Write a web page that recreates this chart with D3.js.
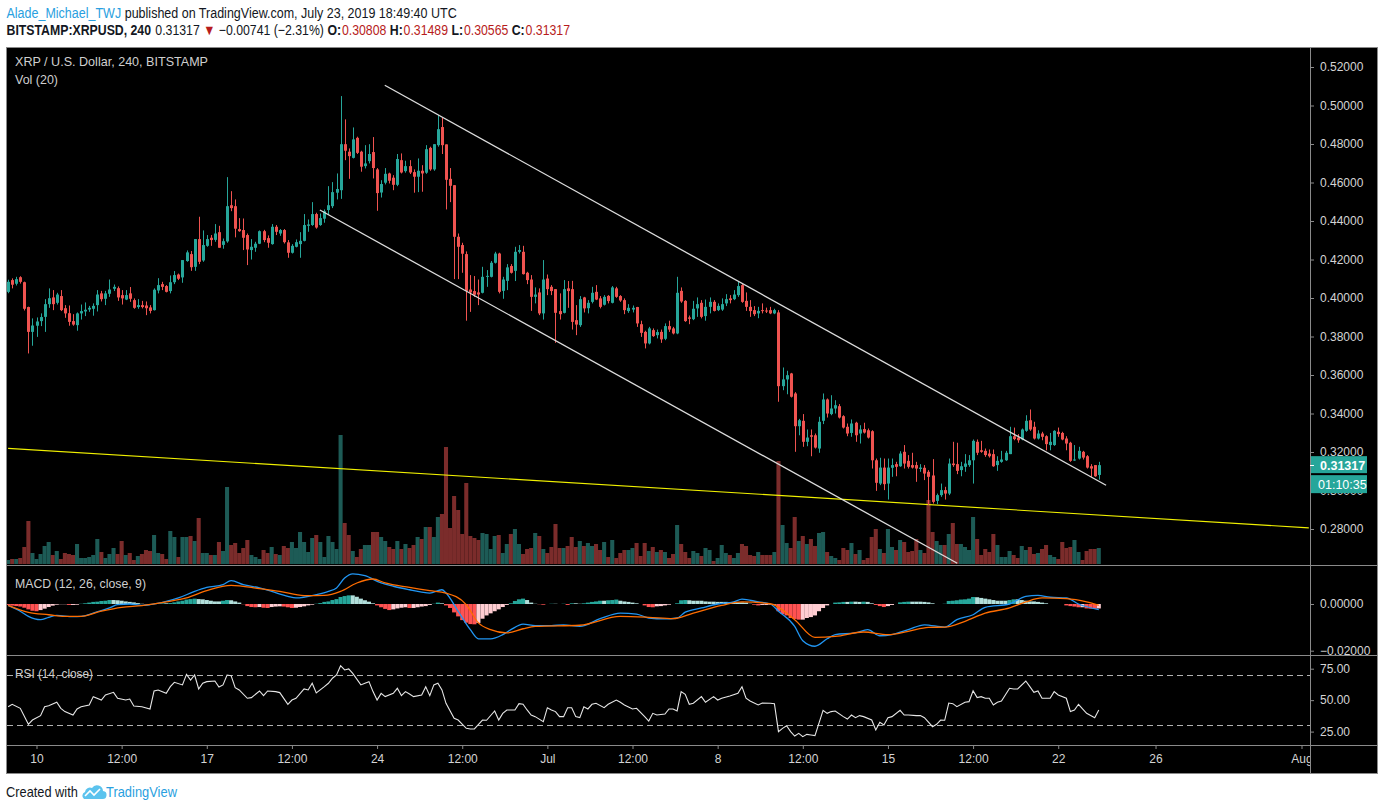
<!DOCTYPE html>
<html><head><meta charset="utf-8">
<script src="https://cdn.jsdelivr.net/npm/d3@7"></script>
<style>
html,body{margin:0;padding:0;background:#fff;overflow:hidden;}
svg{display:block;}
</style></head>
<body>
<svg id="chart" width="1380" height="810"></svg>
<script>
// ---------------- DATA ----------------
const firstBarUTC = Date.UTC(2019, 5, 8, 20);   // first 4h bar open time
const barHours = 4;

const open = [
.4032,.4093,.4074,.4108,.4082,.3953,.3824,.3856,.3880,.3902,
.3968,.4003,.3975,.4010,.3947,.3921,.3880,.3859,.3920,.3930,
.3940,.3944,.3963,.4024,.3996,.4022,.4048,.4051,.4015,.3992,
.4024,.3989,.3953,.3963,.3961,.3951,.3937,.4039,.4072,.4062,
.4036,.4082,.4122,.4107,.4192,.4228,.4162,.4306,.4195,.4271,
.4313,.4302,.4342,.4276,.4294,.4482,.4477,.4358,.4353,.4327,
.4249,.4261,.4282,.4347,.4311,.4280,.4370,.4335,.4353,.4289,
.4235,.4266,.4280,.4297,.4375,.4379,.4436,.4379,.4412,.4457,
.4477,.4547,.4560,.4799,.4760,.4728,.4832,.4760,.4685,.4711,
.4758,.4668,.4548,.4599,.4647,.4625,.4588,.4716,.4659,.4685,
.4654,.4630,.4661,.4651,.4780,.4668,.4794,.4888,.4798,.4619,
.4586,.4318,.4275,.4228,.4044,.4036,.4029,.4027,.4110,.4110,
.4183,.4231,.4037,.4089,.4166,.4141,.4240,.4240,.4131,.4096,
.4006,.4029,.3920,.4101,.4058,.4046,.3932,.3923,.4050,.4046,
.3885,.3859,.4003,.3947,.3980,.4032,.3998,.3965,.4011,.3975,
.4050,.4010,.3989,.3932,.3940,.3953,.3864,.3824,.3764,.3833,
.3807,.3824,.3788,.3854,.3842,.3816,.4037,.3985,.3899,.3890,
.3946,.3975,.3906,.3954,.3980,.3937,.3940,.3972,.3998,.3994,
.4015,.4067,.3985,.3954,.3937,.3920,.3937,.3935,.3937,.3920,
.3925,.3542,.3577,.3608,.3504,.3334,.3362,.3253,.3287,.3287,
.3218,.3362,.3473,.3397,.3426,.3438,.3386,.3331,.3299,.3352,
.3296,.3319,.3313,.3308,.3157,.3036,.3119,.3036,.3118,.3137,
.3126,.3201,.3154,.3132,.3132,.3112,.3118,.3097,.3078,.2946,
.2976,.3002,.2984,.3140,.3137,.3106,.3123,.3132,.3157,.3253,
.3209,.3206,.3192,.3189,.3132,.3149,.3157,.3189,.3282,.3275,
.3265,.3310,.3365,.3331,.3270,.3296,.3282,.3236,.3236,.3305,
.3299,.3270,.3248,.3157,.3166,.3201,.3178,.3126,.3132,.30808];

const high = [
.4095,.4102,.4110,.4113,.4085,.3955,.3894,.3899,.3920,.3994,
.4050,.4041,.4027,.4041,.3963,.3961,.3916,.3925,.3966,.3977,
.3959,.3972,.4041,.4037,.4037,.4096,.4070,.4060,.4041,.4041,
.4057,.3998,.3994,.3985,.3982,.3963,.4050,.4103,.4084,.4067,
.4117,.4140,.4127,.4197,.4247,.4244,.4306,.4422,.4351,.4327,
.4327,.4384,.4375,.4309,.4628,.4555,.4512,.4415,.4413,.4335,
.4306,.4292,.4351,.4354,.4325,.4384,.4379,.4358,.4358,.4301,
.4280,.4304,.4342,.4436,.4408,.4498,.4443,.4439,.4460,.4581,
.4602,.4647,.5049,.4928,.4777,.4886,.4838,.4765,.4794,.4799,
.4836,.4675,.4612,.4675,.4651,.4638,.4748,.4751,.4713,.4716,
.4668,.4725,.4690,.4794,.4786,.4799,.4950,.4936,.4798,.4675,
.4586,.4335,.4287,.4242,.4119,.4114,.4096,.4162,.4145,.4192,
.4240,.4235,.4110,.4176,.4176,.4266,.4275,.4271,.4136,.4119,
.4055,.4050,.4197,.4122,.4067,.4046,.4024,.4093,.4088,.4089,
.3963,.4010,.4006,.3989,.4058,.4067,.4010,.4015,.4015,.4062,
.4058,.4015,.3998,.3968,.3961,.3954,.3882,.3830,.3850,.3842,
.3836,.3836,.3868,.3882,.3850,.4110,.4055,.3989,.3909,.3985,
.4003,.3989,.3992,.4003,.3989,.3972,.3998,.4020,.4015,.4041,
.4084,.4072,.4029,.3989,.3958,.3954,.3972,.3950,.3954,.3944,
.3937,.3639,.3622,.3611,.3511,.3372,.3397,.3317,.3317,.3296,
.3383,.3504,.3478,.3495,.3469,.3449,.3391,.3348,.3369,.3357,
.3339,.3352,.3322,.3313,.3166,.3170,.3166,.3166,.3166,.3149,
.3204,.3236,.3184,.3196,.3149,.3137,.3132,.3106,.3163,.2984,
.3036,.3019,.3166,.3253,.3248,.3149,.3189,.3184,.3265,.3265,
.3258,.3218,.3213,.3213,.3178,.3206,.3206,.3331,.3327,.3293,
.3322,.3391,.3421,.3357,.3313,.3305,.3287,.3299,.3313,.3327,
.3305,.3282,.3253,.3236,.3227,.3206,.3184,.3137,.3132,.31489];

const low = [
.4025,.4050,.4065,.4075,.3935,.3712,.3752,.3798,.3854,.3824,
.3949,.3937,.3966,.3932,.3897,.3856,.3856,.3830,.3888,.3906,
.3928,.3908,.3930,.3982,.3963,.4006,.4036,.3985,.3966,.3989,
.3980,.3944,.3944,.3946,.3911,.3920,.3935,.4024,.4041,.4029,
.4024,.4072,.4093,.4079,.4188,.4141,.4141,.4176,.4188,.4266,
.4271,.4292,.4261,.4256,.4287,.4451,.4315,.4344,.4249,.4171,
.4200,.4240,.4280,.4290,.4261,.4277,.4327,.4323,.4283,.4209,
.4231,.4263,.4209,.4294,.4344,.4375,.4360,.4375,.4391,.4432,
.4467,.4512,.4515,.4716,.4619,.4725,.4748,.4656,.4673,.4699,
.4621,.4453,.4522,.4590,.4595,.4560,.4581,.4647,.4651,.4644,
.4547,.4550,.4552,.4645,.4661,.4661,.4786,.4748,.4460,.4498,
.4098,.4098,.4131,.3882,.3928,.4006,.3963,.4024,.4058,.4107,
.4179,.4024,.3996,.4041,.4127,.4088,.4231,.4122,.4072,.3933,
.3972,.3911,.3888,.4015,.4015,.3767,.3888,.3920,.3949,.3836,
.3807,.3850,.3925,.3920,.3972,.3989,.3946,.3961,.3972,.3972,
.4001,.3980,.3916,.3923,.3925,.3850,.3798,.3738,.3759,.3798,
.3790,.3767,.3781,.3824,.3811,.3812,.3975,.3876,.3864,.3885,
.3902,.3894,.3882,.3920,.3930,.3932,.3933,.3958,.3972,.3989,
.4006,.3975,.3933,.3902,.3906,.3895,.3920,.3922,.3916,.3916,
.3461,.3521,.3500,.3483,.3201,.3287,.3227,.3230,.3178,.3218,
.3196,.3345,.3379,.3391,.3400,.3374,.3322,.3282,.3279,.3253,
.3244,.3296,.3270,.3114,.2998,.3028,.3002,.2953,.3071,.3074,
.3123,.3114,.3114,.3114,.3045,.3097,.3054,.2924,.2932,.2929,
.2967,.2953,.2976,.3123,.3085,.3074,.3097,.3123,.3036,.3184,
.3196,.3175,.3171,.3123,.3102,.3144,.3154,.3189,.3261,.3248,
.3261,.3305,.3310,.3265,.3265,.3261,.3209,.3209,.3232,.3279,
.3261,.3209,.3149,.3154,.3161,.3161,.3114,.3071,.3071,.30565];

const close = [
.4084,.4069,.4098,.4084,.3944,.3824,.3857,.3878,.3901,.3968,
.3999,.3968,.4018,.3937,.3920,.3876,.3862,.3920,.3932,.3939,
.3949,.3959,.4018,.3994,.4024,.4044,.4058,.4003,.3998,.4015,
.3996,.3949,.3963,.3953,.3947,.3933,.4043,.4067,.4058,.4032,
.4082,.4119,.4100,.4197,.4237,.4160,.4306,.4188,.4275,.4306,
.4301,.4335,.4261,.4295,.4477,.4467,.4360,.4347,.4313,.4252,
.4266,.4282,.4347,.4301,.4287,.4370,.4344,.4353,.4290,.4235,
.4271,.4290,.4297,.4379,.4382,.4436,.4366,.4415,.4451,.4482,
.4550,.4566,.4799,.4765,.4737,.4824,.4754,.4682,.4699,.4748,
.4675,.4545,.4592,.4645,.4609,.4588,.4722,.4652,.4685,.4652,
.4630,.4661,.4647,.4773,.4668,.4799,.4877,.4794,.4614,.4583,
.4318,.4266,.4230,.4037,.4029,.4017,.4018,.4110,.4115,.4183,
.4231,.4032,.4096,.4159,.4131,.4240,.4249,.4124,.4093,.4006,
.4018,.3920,.4096,.4046,.4036,.3923,.3916,.4046,.4036,.3876,
.3862,.3994,.3946,.3975,.4027,.3992,.3954,.4006,.3984,.4055,
.4006,.3987,.3937,.3949,.3949,.3868,.3819,.3764,.3842,.3802,
.3823,.3785,.3854,.3836,.3816,.4027,.3982,.3880,.3892,.3944,
.3968,.3902,.3954,.3980,.3933,.3959,.3968,.3994,.3989,.4018,
.4062,.3980,.3954,.3932,.3916,.3933,.3933,.3930,.3920,.3937,
.3542,.3577,.3599,.3487,.3334,.3365,.3253,.3275,.3279,.3223,
.3357,.3473,.3400,.3426,.3443,.3379,.3327,.3296,.3348,.3287,
.3317,.3301,.3275,.3157,.3040,.3119,.3033,.3119,.3132,.3123,
.3192,.3140,.3123,.3119,.3114,.3119,.3088,.3071,.2941,.2976,
.3002,.2984,.3140,.3132,.3102,.3126,.3140,.3157,.3258,.3196,
.3201,.3184,.3178,.3126,.3154,.3161,.3196,.3282,.3267,.3261,
.3317,.3362,.3317,.3270,.3296,.3279,.3241,.3253,.3310,.3293,
.3265,.3244,.3154,.3161,.3206,.3171,.3119,.3114,.3074,.31317];

const volume = [
4,5,5,6,17,43,11,5,10,18, 22,9,13,5,11,10,9,20,6,6,
7,9,25,12,6,10,16,10,23,9, 11,4,8,10,14,13,29,11,10,5,
33,27,7,27,27,28,23,46,11,11, 9,9,22,13,77,19,21,11,16,24,
9,7,5,14,11,17,10,9,18,16, 22,16,32,22,12,26,29,22,7,28,
22,15,129,41,29,13,7,15,19,19, 32,32,27,23,17,15,23,15,20,16,
19,27,25,37,37,27,47,50,117,36, 68,54,30,81,28,26,24,31,30,15,
28,29,11,20,30,35,20,10,15,16, 31,28,15,11,17,40,16,16,18,27,
17,23,18,21,18,20,14,22,7,24, 6,11,14,14,16,21,8,21,13,17,
12,14,12,6,10,39,20,12,6,13, 11,8,16,14,3,6,19,11,9,6,
11,20,18,9,8,12,9,9,9,12, 103,39,21,16,47,23,28,20,25,18,
31,32,12,8,6,4,16,14,21,10, 14,4,6,27,35,15,11,35,17,14,
24,22,12,13,25,14,11,64,32,23, 19,19,30,41,20,20,17,14,47,25,
9,15,12,30,19,7,7,13,9,6, 18,14,17,10,11,15,19,9,7,5,
22,16,17,24,12,4,13,15,15,16];

// MACD line and signal line, read at bar positions (bar index, value)
const macdBar = [0,3,5,8,10,12,16,18,21,25,27,30,33,35,39,42,46,49,53,55,58,62,65,69,71,76,79,81,83,85,88,92,95,99,102,104,107,108,111,114,116,119,122,124,127,130,134,137,141,146,151,155,158,162,165,167,171,175,179,181,185,188,190,194,196,199,202,204,209,212,215,218,222,226,231,234,238,241,247,251,254,257,261,264,269];
const macdVal = [-0.0006,-0.0031,-0.0053,-0.0067,-0.0057,-0.0049,-0.0054,-0.0053,-0.0039,-0.0017,-0.0003,0,-0.0006,-0.0003,0.0011,0.0026,0.0054,0.0071,0.0083,0.0100,0.0083,0.0069,0.0054,0.0033,0.0026,0.0040,0.0054,0.0069,0.0111,0.0129,0.0121,0.0090,0.0076,0.0061,0.0051,0.0047,0.0061,0.0047,-0.0031,-0.0110,-0.0149,-0.0149,-0.0131,-0.0110,-0.0086,-0.0093,-0.0093,-0.0089,-0.0096,-0.0063,-0.0039,-0.0043,-0.0060,-0.0064,-0.0060,-0.0035,-0.0017,0,0.0009,0.0021,0.0009,0,-0.0031,-0.0096,-0.0157,-0.0181,-0.0149,-0.0131,-0.0124,-0.0110,-0.0136,-0.0131,-0.0110,-0.0089,-0.0099,-0.0067,-0.0046,-0.0014,0,0.0033,0.0037,0.0029,0.0026,0,-0.0024];
const signalBar = [0,5,10,14,18,23,28,33,39,44,49,55,62,67,73,78,82,86,90,93,99,104,108,113,116,119,123,127,130,141,151,158,164,169,176,181,188,194,199,204,211,217,222,227,231,236,241,247,251,255,261,266,269];
const signalVal = [-0.0006,-0.0036,-0.0046,-0.0053,-0.0053,-0.0031,-0.0014,-0.0007,0.0009,0.0026,0.0057,0.0080,0.0066,0.0054,0.0036,0.0037,0.0054,0.0090,0.0107,0.0090,0.0071,0.0057,0.0047,-0.0003,-0.0081,-0.0110,-0.0124,-0.0106,-0.0096,-0.0091,-0.0053,-0.0057,-0.0063,-0.0039,-0.0006,0.0009,0.0001,-0.0067,-0.0143,-0.0139,-0.0120,-0.0131,-0.0117,-0.0100,-0.0099,-0.0074,-0.0039,-0.0017,0.0009,0.0026,0.0023,0.0009,-0.0006];
// MACD histogram, one value per bar
const histogram = [
-0.0004,-0.0007,-0.0009,-0.0011,-0.0016,-0.0023,-0.0029,-0.0031,-0.0026,-0.0020,
-0.0013,-0.0007,-0.0003,-0.0001,-0.0001,-0.0004,-0.0004,-0.0003,0.0001,0.0003,
0.0006,0.0009,0.0010,0.0013,0.0014,0.0017,0.0017,0.0016,0.0014,0.0011,
0.0009,0.0007,0.0004,0.0001,-0.0001,-0.0003,0,0.0001,0.0003,0.0003,
0.0004,0.0007,0.0011,0.0014,0.0019,0.0021,0.0023,0.0021,0.0020,0.0017,
0.0014,0.0011,0.0011,0.0014,0.0017,0.0016,0.0011,0.0006,-0.0001,-0.0009,
-0.0013,-0.0014,-0.0013,-0.0016,-0.0017,-0.0013,-0.0011,-0.0010,-0.0011,-0.0014,
-0.0017,-0.0016,-0.0013,-0.0010,-0.0006,-0.0003,0.0001,0.0004,0.0009,0.0011,
0.0017,0.0021,0.0030,0.0034,0.0037,0.0037,0.0031,0.0023,0.0016,0.0010,
0.0003,-0.0006,-0.0014,-0.0021,-0.0026,-0.0023,-0.0019,-0.0016,-0.0014,-0.0017,
-0.0017,-0.0014,-0.0011,-0.0009,-0.0004,0.0001,0.0006,0.0003,-0.0006,-0.0017,
-0.0036,-0.0053,-0.0069,-0.0080,-0.0086,-0.0087,-0.0081,-0.0063,-0.0049,-0.0040,
-0.0031,-0.0023,-0.0013,-0.0004,0.0003,0.0013,0.0020,0.0023,0.0017,0.0006,
0.0001,-0.0001,-0.0003,0,0.0001,0.0001,0,0.0001,-0.0004,0.0003,
0.0003,0.0001,0.0003,0.0006,0.0009,0.0011,0.0014,0.0014,0.0016,0.0017,
0.0019,0.0014,0.0011,0.0009,0.0006,0.0003,0,-0.0006,-0.0013,-0.0014,
-0.0010,-0.0009,-0.0006,-0.0003,0,0.0003,0.0016,0.0017,0.0016,0.0014,
0.0014,0.0014,0.0011,0.0010,0.0010,0.0009,0.0009,0.0009,0.0007,0.0007,
0.0007,0.0007,0.0006,0.0001,-0.0003,-0.0006,-0.0004,-0.0004,-0.0003,-0.0003,
-0.0031,-0.0043,-0.0049,-0.0060,-0.0064,-0.0067,-0.0067,-0.0060,-0.0056,-0.0049,
-0.0031,-0.0017,-0.0006,0,0.0006,0.0007,0.0009,0.0009,0.0010,0.0010,
0.0009,0.0010,0.0009,0.0003,-0.0004,-0.0009,-0.0013,-0.0009,-0.0004,0,
0.0007,0.0009,0.0010,0.0010,0.0010,0.0010,0.0009,0.0007,0.0003,0,
0,0.0001,0.0013,0.0014,0.0016,0.0019,0.0020,0.0023,0.0030,0.0029,
0.0026,0.0023,0.0020,0.0017,0.0014,0.0014,0.0014,0.0017,0.0020,0.0020,
0.0017,0.0014,0.0011,0.0011,0.0009,0.0006,0.0003,0,0,0,
0,-0.0006,-0.0009,-0.0011,-0.0014,-0.0014,-0.0019,-0.0020,-0.0021,-0.0019];

// RSI (14) read at bar positions
const rsiBar = [0,1,3,5,6,8,9,10,12,13,14,16,17,18,20,21,23,24,26,27,29,30,31,33,35,36,37,39,40,41,43,44,45,46,47,48,49,51,52,53,54,55,56,57,59,60,62,63,64,66,67,69,70,71,73,74,75,76,78,79,80,81,82,83,84,85,87,88,89,90,91,92,93,95,96,97,98,99,100,102,103,104,105,106,107,108,110,111,113,114,115,117,118,120,121,122,123,125,126,127,128,129,130,132,133,134,135,136,137,138,139,140,141,142,143,144,145,147,148,150,151,152,154,155,157,158,159,160,162,163,164,165,166,167,168,169,171,172,174,175,176,178,180,181,182,183,185,186,188,189,190,191,192,193,194,195,196,197,198,199,201,202,203,204,206,207,208,209,210,211,213,214,215,216,217,218,220,221,222,224,225,226,228,229,230,231,232,233,234,236,237,238,239,240,241,242,243,244,245,247,248,249,251,252,253,254,255,257,258,259,261,262,263,264,265,266,268,269];
const rsiVal = [44.8,46.7,43.5,30.8,34.2,37.7,44.8,45.6,48.3,43.5,40.9,38.2,43.0,44.8,46.2,52.8,50.1,54.1,56.2,51.5,50.1,50.9,45.4,44.8,43.0,57.3,58.1,55.4,60.7,64.2,62.1,70.5,66.0,70.0,58.9,63.4,64.7,65.2,60.5,62.1,70.0,69.5,59.9,58.1,51.5,52.0,57.3,53.6,57.3,56.8,56.0,46.7,50.1,51.5,58.9,58.1,63.4,55.7,60.7,63.4,67.4,70.0,77.4,74.0,74.8,71.3,62.1,63.4,64.7,56.8,50.1,55.4,52.8,55.4,59.4,53.6,56.8,54.9,52.8,54.1,60.7,53.6,62.1,63.4,58.1,47.5,35.6,34.2,27.6,27.1,27.1,34.2,34.0,41.4,34.2,39.5,42.2,42.2,47.2,46.7,42.2,38.2,36.9,32.9,44.0,42.2,40.9,36.9,36.9,44.0,44.0,36.9,36.1,44.8,43.0,46.7,47.5,44.0,46.7,50.1,48.3,46.2,43.0,43.5,36.9,33.4,39.5,38.2,39.0,43.0,43.0,41.4,56.8,54.6,46.7,47.5,52.8,48.3,52.8,50.1,51.5,53.3,55.4,60.7,51.5,49.3,46.2,47.7,47.5,47.2,25.0,27.6,29.7,25.0,21.5,23.6,21.0,22.8,22.3,21.8,41.9,39.5,40.9,41.4,36.9,35.0,38.2,36.1,37.7,36.9,34.2,26.3,32.4,30.3,36.1,36.9,41.9,38.2,38.2,37.7,37.7,36.1,28.9,30.8,34.2,34.0,47.7,47.2,44.8,48.3,48.8,57.5,52.0,52.8,51.5,51.5,46.2,48.3,49.3,59.4,58.9,58.9,65.2,60.7,56.2,57.3,51.5,51.5,56.8,54.1,51.5,40.9,42.2,46.7,43.0,39.5,36.1,42.2];

// Drawn trend lines (bar index, price)
const channelTop = [[92.9, 0.5105], [270.8, 0.3027]];
const channelBottom = [[76.9, 0.4457], [234.1, 0.2622]];
const supportLine = [[0, 0.3219], [320.8, 0.2806]];

// Axis ticks and labels
const priceTicks = [0.52,0.50,0.48,0.46,0.44,0.42,0.40,0.38,0.36,0.34,0.32,0.30,0.28];
const macdTicks = [0, -0.02];
const rsiTicks = [75, 50, 25];
const rsiBands = [70, 30];
const timeTicks = ["2019-06-10T00:00Z","2019-06-13T12:00Z","2019-06-17T00:00Z","2019-06-20T12:00Z","2019-06-24T00:00Z","2019-06-27T12:00Z","2019-07-01T00:00Z","2019-07-04T12:00Z","2019-07-08T00:00Z","2019-07-11T12:00Z","2019-07-15T00:00Z","2019-07-18T12:00Z","2019-07-22T00:00Z","2019-07-26T00:00Z","2019-08-01T00:00Z"];
const timeLabels = ["10","12:00","17","12:00","24","12:00","Jul","12:00","8","12:00","15","12:00","22","26","Aug"];
const lastPrice = 0.31317;
const countdown = "01:10:35";

// header text pieces: [text, bold, colour, gap after]
const headerLine1 = [
  ["Alade_Michael_TWJ", false, "#2a9fe0", 4],
  ["published on TradingView.com, July 23, 2019 18:49:40 UTC", false, "#131722", 0]];
const headerLine2 = [
  ["BITSTAMP:XRPUSD, 240", true, "#131722", 5],
  ["0.31317", false, "#131722", 4],
  ["▼", false, "#b71c1c", 4],
  ["−0.00741 (−2.31%)", false, "#131722", 4],
  ["O:", true, "#131722", 1], ["0.30808", false, "#b71c1c", 4],
  ["H:", true, "#131722", 1], ["0.31489", false, "#b71c1c", 4],
  ["L:", true, "#131722", 1], ["0.30565", false, "#b71c1c", 4],
  ["C:", true, "#131722", 1], ["0.31317", false, "#b71c1c", 0]];

// ---------------- DRAWING ----------------
const svg = d3.select('#chart');
const FONT = "'Liberation Sans', Arial, sans-serif";
const UP = '#26a69a', DOWN = '#ef5350';
const VUP = '#1d5b56', VDOWN = '#7b2c2b';

const L = 7, R = 1310, TOP = 48, MAIN_B = 565, MACD_B = 655, RSI_B = 745, BOT = 773, RIGHT = 1377;

const x = d3.scaleUtc()
  .domain([new Date(Date.UTC(2019,5,10)), new Date(Date.UTC(2019,7,1))])
  .range([36.5, 1301.5]);
const barTime = i => new Date(firstBarUTC + i * barHours * 3600e3);
const bx = i => x(barTime(i));
const y = d3.scaleLinear().domain([0.28, 0.52]).range([529, 67]);
const yVol = d3.scaleLinear().domain([0, d3.max(volume)]).range([564, 435]);
const yMacd = d3.scaleLinear().domain([-0.02, 0]).range([650.7, 604]);
const yRsi = d3.scaleLinear().domain([25, 75]).range([731.6, 668.7]);

// page background + header (laid out naturally, then condensed horizontally)
svg.append('rect').attr('width', 1380).attr('height', 810).attr('fill', '#fff');
function headerRow(parts, yy, x0, x1, fs) {
  const g = svg.append('g');
  let cx = 0;
  parts.forEach(p => {
    const t = g.append('text').attr('x', cx).attr('y', yy)
      .attr('font-family', FONT).attr('font-size', fs)
      .attr('font-weight', p[1] ? 'bold' : 'normal').attr('fill', p[2]).text(p[0]);
    cx += t.node().getComputedTextLength() + p[3];
  });
  g.attr('transform', `translate(${x0},0) scale(${(x1 - x0) / cx},1)`);
}
headerRow(headerLine1, 18, 6.5, 457, 14.5);
headerRow(headerLine2, 35, 6.5, 570, 14.5);

// chart frame
svg.append('rect').attr('x', 6.5).attr('y', 47.5).attr('width', RIGHT - 6).attr('height', BOT - 47)
  .attr('fill', '#000').attr('stroke', '#8a8a8a');

const defs = svg.append('defs');
function clip(id, x0, y0, w, h) {
  defs.append('clipPath').attr('id', id).append('rect').attr('x', x0).attr('y', y0).attr('width', w).attr('height', h);
  return `url(#${id})`;
}
const cMain = clip('cMain', L, TOP, R - L, MAIN_B - TOP);
const cMacd = clip('cMacd', L, MAIN_B, R - L, MACD_B - MAIN_B);
const cRsi = clip('cRsi', L, MACD_B, R - L, RSI_B - MACD_B);
const cTime = clip('cTime', L, RSI_B, R - L, BOT - RSI_B);

const idx = d3.range(open.length);

// ---- volume
const gMain = svg.append('g').attr('clip-path', cMain);
gMain.append('g').selectAll('rect').data(idx).join('rect')
  .attr('x', i => bx(i) - 2.03).attr('width', 4.06)
  .attr('y', i => yVol(volume[i])).attr('height', i => yVol(0) - yVol(volume[i]))
  .attr('fill', i => close[i] >= open[i] ? VUP : VDOWN);

// ---- trend lines
const ln = d3.line().x(d => bx(d[0])).y(d => y(d[1]));
gMain.append('path').attr('d', ln(supportLine)).attr('stroke', '#f0f000').attr('stroke-width', 1.1).attr('fill', 'none');

// ---- candles
const gC = gMain.append('g');
gC.selectAll('line').data(idx).join('line')
  .attr('x1', i => Math.round(bx(i)) + 0.5).attr('x2', i => Math.round(bx(i)) + 0.5)
  .attr('y1', i => y(high[i])).attr('y2', i => y(low[i]))
  .attr('stroke', i => close[i] >= open[i] ? UP : DOWN).attr('stroke-width', 1);
gC.selectAll('rect').data(idx).join('rect')
  .attr('x', i => Math.round(bx(i)) - 1).attr('width', 3)
  .attr('y', i => y(Math.max(open[i], close[i])))
  .attr('height', i => Math.max(1, Math.abs(y(open[i]) - y(close[i]))))
  .attr('fill', i => close[i] >= open[i] ? UP : DOWN);

gMain.append('path').attr('d', ln(channelTop)).attr('stroke', '#dcdcdc').attr('stroke-width', 1.3).attr('fill', 'none');
gMain.append('path').attr('d', ln(channelBottom)).attr('stroke', '#dcdcdc').attr('stroke-width', 1.3).attr('fill', 'none');

// pane titles
function label(txt, yy, len) {
  svg.append('text').attr('x', 15).attr('y', yy).attr('font-family', FONT).attr('font-size', 13)
    .attr('fill', '#cfcfcf').attr('textLength', len).attr('lengthAdjust', 'spacingAndGlyphs').text(txt);
}
label('XRP / U.S. Dollar, 240, BITSTAMP', 66, 193);
label('Vol (20)', 84, 43);

// ---- MACD
const gM = svg.append('g').attr('clip-path', cMacd);
gM.selectAll('rect').data(idx).join('rect')
  .attr('x', i => bx(i) - 2.03).attr('width', 4.06)
  .attr('y', i => Math.min(yMacd(histogram[i]), yMacd(0)))
  .attr('height', i => Math.abs(yMacd(histogram[i]) - yMacd(0)))
  .attr('fill', i => {
    const h = histogram[i], p = i ? histogram[i - 1] : 0;
    if (h >= 0) return h > p ? '#26a69a' : '#b2dfdb';
    return h < p ? '#ff5252' : '#ffcdd2';
  });
const lineM = d3.line().x(d => bx(d[0])).y(d => yMacd(d[1])).curve(d3.curveMonotoneX);
gM.append('path').attr('d', lineM(macdBar.map((b, k) => [b, macdVal[k]])))
  .attr('stroke', '#2196f3').attr('stroke-width', 1.3).attr('fill', 'none');
gM.append('path').attr('d', lineM(signalBar.map((b, k) => [b, signalVal[k]])))
  .attr('stroke', '#ff6d00').attr('stroke-width', 1.3).attr('fill', 'none');
label('MACD (12, 26, close, 9)', 588, 131);

// ---- RSI
const gR = svg.append('g').attr('clip-path', cRsi);
rsiBands.forEach(v => {
  gR.append('line').attr('x1', L).attr('x2', R).attr('y1', Math.round(yRsi(v)) + 0.5).attr('y2', Math.round(yRsi(v)) + 0.5)
    .attr('stroke', '#b0b0b0').attr('stroke-dasharray', '6,4');
});
gR.append('path').attr('d', d3.line().x(d => bx(d[0])).y(d => yRsi(d[1]))(rsiBar.map((b, k) => [b, rsiVal[k]])))
  .attr('stroke', '#e6e6e6').attr('stroke-width', 1.1).attr('fill', 'none');
label('RSI (14, close)', 678, 78);

// ---- axes
function styleAxis(g, size) {
  g.select('.domain').remove();
  g.selectAll('.tick line').attr('stroke', '#8a8a8a');
  g.selectAll('.tick text').attr('fill', '#d4d4d4').attr('font-family', FONT).attr('font-size', size);
}
svg.append('g').attr('transform', `translate(${R},0)`)
  .call(d3.axisRight(y).tickValues(priceTicks).tickFormat(d3.format('.5f')).tickSize(4).tickPadding(6))
  .call(g => styleAxis(g, 12));
svg.append('g').attr('transform', `translate(${R},0)`)
  .call(d3.axisRight(yMacd).tickValues(macdTicks).tickFormat(d3.format('.5f')).tickSize(4).tickPadding(6))
  .call(g => styleAxis(g, 12));
svg.append('g').attr('transform', `translate(${R},0)`)
  .call(d3.axisRight(yRsi).tickValues(rsiTicks).tickFormat(d3.format('.2f')).tickSize(4).tickPadding(6))
  .call(g => styleAxis(g, 12));
svg.append('g').attr('clip-path', cTime).append('g').attr('transform', `translate(0,${RSI_B})`)
  .call(d3.axisBottom(x).tickValues(timeTicks.map(t => new Date(t))).tickFormat((d, k) => timeLabels[k]).tickSize(4).tickPadding(5))
  .call(g => styleAxis(g, 12));

// separators
const sep = svg.append('g').attr('stroke', '#8a8a8a').attr('stroke-width', 1);
[MAIN_B, MACD_B, RSI_B].forEach(v => sep.append('line').attr('x1', L).attr('x2', RIGHT).attr('y1', v + 0.5).attr('y2', v + 0.5));
sep.append('line').attr('x1', R + 0.5).attr('x2', R + 0.5).attr('y1', TOP).attr('y2', BOT);

// last price + countdown labels (drawn over the axis, as in the reference)
const py = y(lastPrice);
svg.append('rect').attr('x', R + 1).attr('y', py - 9).attr('width', 56).attr('height', 17).attr('fill', UP);
svg.append('line').attr('x1', R).attr('x2', R + 4).attr('y1', Math.round(py) + 0.5).attr('y2', Math.round(py) + 0.5).attr('stroke', '#fff');
svg.append('text').attr('x', R + 10).attr('y', py + 4.5).attr('font-family', FONT).attr('font-size', 12.5).attr('font-weight', 'bold')
  .attr('fill', '#fff').text(d3.format('.5f')(lastPrice));
svg.append('rect').attr('x', R + 1).attr('y', py + 10).attr('width', 56).attr('height', 18).attr('fill', UP);
svg.append('text').attr('x', R + 8).attr('y', py + 23.5).attr('font-family', FONT).attr('font-size', 12.5)
  .attr('fill', '#fff').text(countdown);

// footer
const foot = svg.append('g');
const ft1 = foot.append('text').attr('x', 0).attr('y', 797).attr('font-family', FONT).attr('font-size', 14)
  .attr('fill', '#131722').text('Created with');
const w1 = ft1.node().getComputedTextLength();
foot.attr('transform', `translate(6,0) scale(${72 / w1},1)`);
const logo = svg.append('g').attr('transform', 'translate(82,784)');
logo.append('path').attr('d', 'M2,15 L20,15 A4,4 0 0 0 21,7 A6,6 0 0 0 10,4 A5,5 0 0 0 3,8 A4,4 0 0 0 2,15 Z').attr('fill', '#5cc3ee');
logo.append('polyline').attr('points', '3,12 8,7 12,11 18,5').attr('fill', 'none').attr('stroke', '#fff').attr('stroke-width', 1.6);
const foot2 = svg.append('g');
const ft2 = foot2.append('text').attr('x', 0).attr('y', 797).attr('font-family', FONT).attr('font-size', 14)
  .attr('fill', '#2a9fe0').text('TradingView');
const w2 = ft2.node().getComputedTextLength();
foot2.attr('transform', `translate(106,0) scale(${71 / w2},1)`);
</script>
</body></html>
